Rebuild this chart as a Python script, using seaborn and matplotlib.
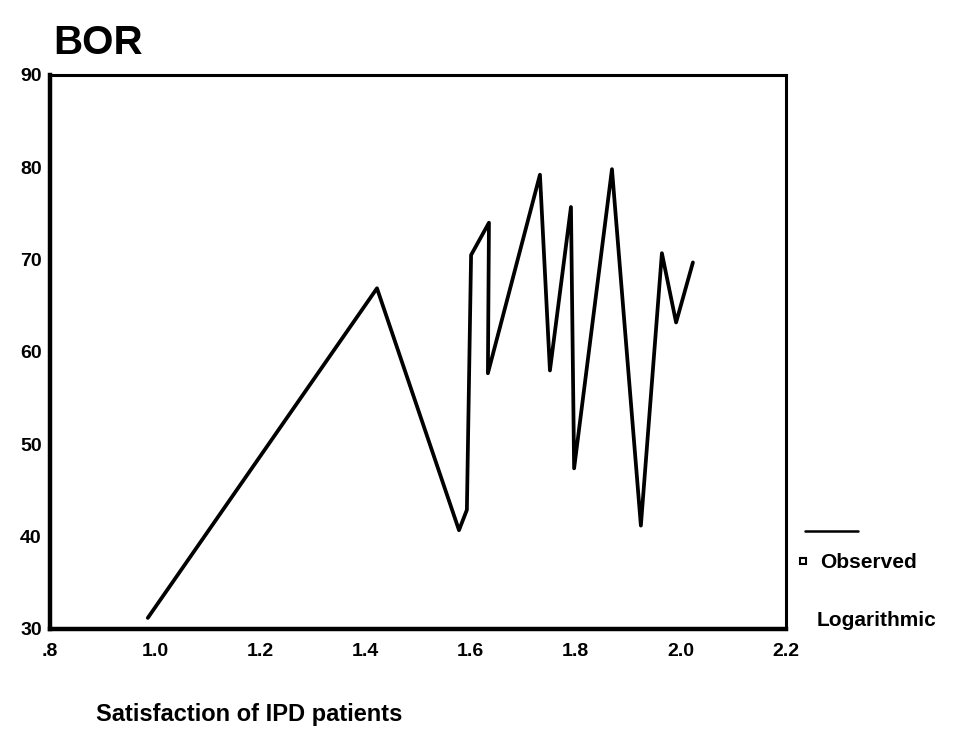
import pandas as pd
import seaborn as sns
import matplotlib.pyplot as plt

# values
satisfaction = [0.986, 1.422, 1.578, 1.593, 1.601, 1.635, 1.633, 1.732, 1.751,
                1.791, 1.797, 1.869, 1.924, 1.964, 1.991, 2.023]
bor = [31.2, 66.9, 40.7, 42.9, 70.5, 74.0, 57.7, 79.2, 58.0,
       75.7, 47.4, 79.8, 41.2, 70.7, 63.2, 69.7]
x_ticks = [0.8, 1.0, 1.2, 1.4, 1.6, 1.8, 2.0, 2.2]
x_tick_labels = [".8", "1.0", "1.2", "1.4", "1.6", "1.8", "2.0", "2.2"]
y_ticks = [30, 40, 50, 60, 70, 80, 90]

df = pd.DataFrame({"Satisfaction": satisfaction, "BOR": bor})

sns.set_style("white")
plt.rcParams["font.family"] = ["Liberation Sans", "DejaVu Sans"]
plt.rcParams["text.color"] = "black"

fig = plt.figure(figsize=(9.62, 7.36), dpi=100)
ax = fig.add_axes([0.052, 0.1454, 0.765, 0.7527])

sns.lineplot(data=df, x="Satisfaction", y="BOR", sort=False, estimator=None,
             color="black", linewidth=2.7, ax=ax)

ax.set_xlim(0.8, 2.2)
ax.set_ylim(30, 90)
ax.set_xticks(x_ticks)
ax.set_xticklabels(x_tick_labels)
ax.set_yticks(y_ticks)
ax.set_xlabel("")
ax.set_ylabel("")
for lbl in ax.get_xticklabels() + ax.get_yticklabels():
    lbl.set_fontweight("bold")
    lbl.set_fontsize(14)
    lbl.set_color("black")
ax.tick_params(axis="both", direction="out", length=4, width=2.5, color="black", pad=2)
ax.tick_params(axis="x", pad=6)
for side, lw in [("left", 3.2), ("bottom", 3.2), ("top", 2.2), ("right", 2.2)]:
    ax.spines[side].set_visible(True)
    ax.spines[side].set_color("black")
    ax.spines[side].set_linewidth(lw)

fig.text(0.055, 0.927, "BOR", fontsize=29, fontweight="bold", ha="left", va="baseline")
fig.text(0.100, 0.020, "Satisfaction of IPD patients", fontsize=17, fontweight="bold",
         ha="left", va="baseline")

# odd legend from the original SPSS output
fig.add_artist(plt.Line2D([0.837, 0.892], [0.278, 0.278], color="black", linewidth=1.8))
fig.add_artist(plt.Line2D([0.835], [0.238], marker="s", markersize=5, markerfacecolor="white",
                          markeredgecolor="black", markeredgewidth=1.5, linestyle="none"))
fig.text(0.853, 0.228, "Observed", fontsize=15, fontweight="bold", ha="left", va="baseline")
fig.text(0.849, 0.150, "Logarithmic", fontsize=15, fontweight="bold", ha="left", va="baseline")

fig.savefig("out.png", dpi=100)
